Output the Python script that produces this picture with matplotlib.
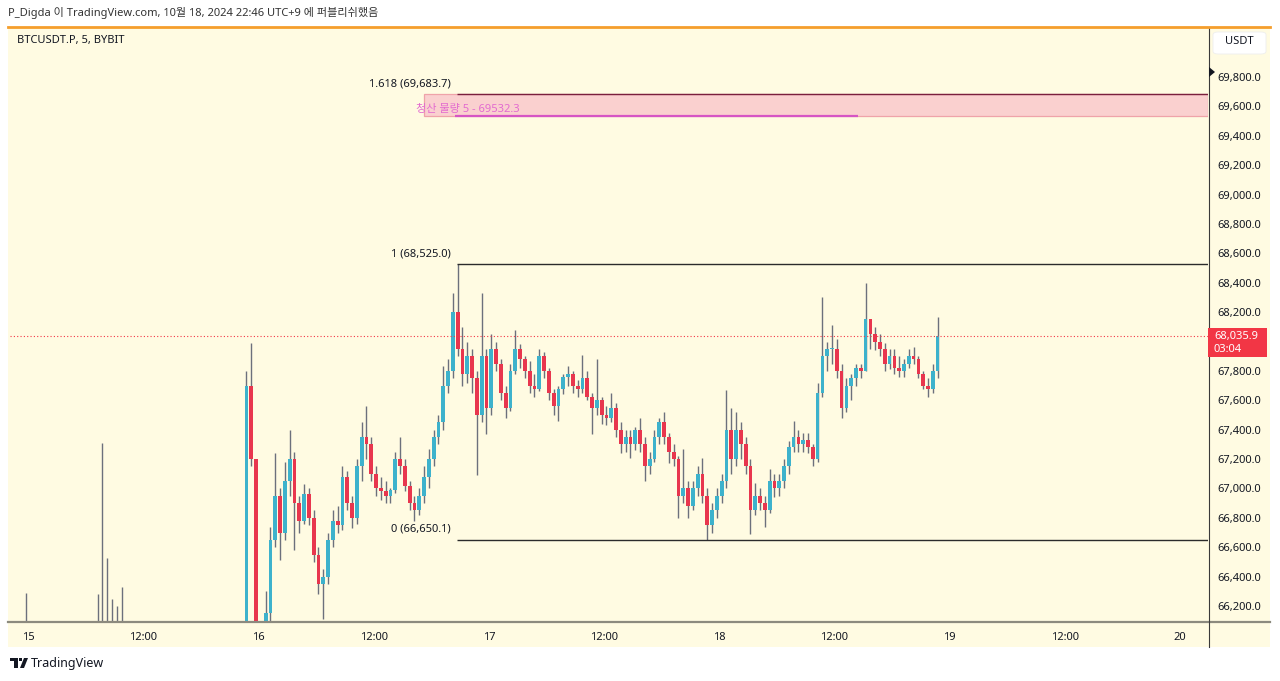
import matplotlib

matplotlib.use("Agg")

import matplotlib.dates as mdates
import matplotlib.pyplot as plt
import numpy as np
import pandas as pd
from matplotlib.lines import Line2D
from matplotlib.patches import FancyBboxPatch, Polygon, Rectangle

plt.rcParams["font.family"] = ["Noto Sans", "Noto Sans CJK KR", "DejaVu Sans"]

# 30분 봉 (2024-10-14 22:00 UTC+9 부터), open 은 직전 close
first_open = 65900
high = [
    65950, 65990, 66020, 66290, 66050, 65920, 65780, 65700, 65650, 65600, 65560, 65520, 65500,
    65600, 65700, 65800, 65880, 65950, 66280, 67310, 66530, 66250, 66200, 66330, 65980, 65850,
    65780, 65700, 65650, 65600, 65580, 65650, 65720, 65780, 65820, 65860, 65800, 65760, 65740,
    65700, 65720, 65800, 65860, 65900, 65950, 66000, 66020, 65980, 66060, 67800, 67990, 67200,
    # 16일
    65900, 66300, 66740, 67240, 67000, 67180, 67400, 67250, 66950, 67030, 67000, 66850, 66600,
    66450, 66700, 66850, 66880, 67150, 67120, 66950, 67200, 67450, 67560, 67350, 67150, 67080,
    67050, 67000, 67250, 67350, 67200, 67050, 66950, 67000, 67150, 67270, 67400, 67500, 67830,
    67880, 68330, 68525, 68100, 68000, 67950, 67800, 68330, 67950,
    # 17일
    68050, 68000, 67880, 67700, 67850, 68080, 67980, 67900, 67870, 67780, 67950, 67930, 67820,
    67680, 67700, 67780, 67830, 67800, 67740, 67910, 67800, 67650, 67880, 67620, 67560, 67650,
    67580, 67450, 67400, 67400, 67420, 67480, 67350, 67250, 67400, 67480, 67520, 67380, 67300,
    67220, 67270, 67050, 67050, 67150, 67210, 67000, 66900, 67000,
    # 18일
    67100, 67670, 67550, 67520, 67450, 67350, 67200, 67040, 67000, 66950, 67130, 67100, 67100,
    67200, 67320, 67460, 67400, 67380, 67380, 67300, 67720, 68300, 68000, 68110, 68020, 67850,
    67750, 67780, 67850, 67850, 68400, 68150, 68100, 68050, 67990, 67950, 67950, 67900, 67880,
    67950, 67960, 67900, 67800, 67750, 67850, 68170,
]
low = [
    65780, 65820, 65850, 65880, 65800, 65650, 65540, 65450, 65400, 65350, 65300, 65250, 65200,
    65350, 65450, 65550, 65600, 65700, 65800, 65900, 65950, 65900, 65850, 65880, 65700, 65600,
    65550, 65480, 65400, 65380, 65350, 65450, 65500, 65550, 65600, 65650, 65600, 65560, 65500,
    65480, 65500, 65600, 65650, 65700, 65750, 65780, 65800, 65760, 65820, 65950, 67150, 65600,
    # 16일
    65400, 65580, 66050, 66600, 66510, 66650, 66950, 66580, 66700, 66760, 66750, 66500, 66280,
    66110, 66350, 66600, 66700, 66720, 66850, 66730, 66760, 67050, 67200, 67050, 66950, 66920,
    66900, 66900, 66970, 67100, 66980, 66850, 66780, 66820, 66900, 67000, 67150, 67300, 67400,
    67650, 67750, 67900, 67700, 67720, 67650, 67090, 67450, 67370,
    # 17일
    67500, 67800, 67600, 67480, 67530, 67780, 67820, 67750, 67650, 67620, 67660, 67750, 67600,
    67500, 67460, 67640, 67700, 67650, 67620, 67650, 67600, 67370, 67500, 67440, 67430, 67450,
    67350, 67240, 67250, 67210, 67260, 67250, 67050, 67100, 67180, 67300, 67300, 67170, 67150,
    66800, 66900, 66800, 66850, 66950, 66900, 66650, 66700, 66800,
    # 18일
    66900, 67000, 67100, 67150, 67200, 67100, 66690, 66820, 66850, 66740, 66830, 66940, 66950,
    67000, 67100, 67250, 67250, 67250, 67240, 67150, 67180, 67620, 67800, 67850, 67750, 67480,
    67520, 67600, 67700, 67750, 67800, 67950, 67940, 67900, 67800, 67810, 67780, 67760, 67760,
    67820, 67850, 67750, 67680, 67620, 67650, 67750,
]
close = [
    65880, 65930, 65900, 65960, 65860, 65700, 65600, 65520, 65480, 65430, 65380, 65330, 65420,
    65550, 65640, 65700, 65800, 65880, 66000, 66080, 66050, 66000, 65950, 65920, 65760, 65680,
    65620, 65560, 65500, 65450, 65520, 65600, 65650, 65700, 65760, 65720, 65680, 65640, 65600,
    65560, 65660, 65740, 65780, 65820, 65880, 65900, 65880, 65900, 65980, 67700, 67200, 65800,
    # 16일
    65600, 66150, 66650, 66950, 66700, 67050, 67200, 66900, 66780, 66960, 66800, 66550, 66350,
    66400, 66650, 66780, 66750, 67080, 66900, 66800, 67150, 67350, 67300, 67100, 67000, 66980,
    66950, 66990, 67200, 67150, 67020, 66900, 66850, 66950, 67080, 67200, 67350, 67450, 67700,
    67800, 68200, 67950, 67780, 67900, 67750, 67500, 67900, 67550,
    # 17일
    67950, 67850, 67650, 67550, 67800, 67950, 67880, 67800, 67700, 67680, 67900, 67800, 67650,
    67560, 67680, 67760, 67780, 67700, 67680, 67750, 67620, 67550, 67600, 67500, 67480, 67550,
    67400, 67300, 67350, 67300, 67400, 67300, 67150, 67200, 67350, 67450, 67350, 67250, 67200,
    66950, 67000, 66880, 67000, 67100, 66950, 66750, 66850, 66950,
    # 18일
    67050, 67400, 67200, 67400, 67300, 67150, 66850, 66950, 66900, 66850, 67050, 67000, 67050,
    67150, 67280, 67350, 67300, 67330, 67280, 67200, 67650, 67900, 67950, 67950, 67800, 67550,
    67700, 67750, 67820, 67800, 68150, 68050, 68000, 67950, 67850, 67900, 67820, 67800, 67850,
    67900, 67880, 67780, 67700, 67680, 67800, 68035.9,
]
last_price = 68035.9
countdown = "03:04"

# 피보나치 되돌림 (고점 → 저점)
fib_levels = [1.0, 0.0, 1.618]
fib_prices = [68525.0, 66650.1, 69683.7]
fib_start = "2024-10-16 20:41"

# 청산 물량 구간
liq_top = 69683.7
liq_price = 69532.3
liq_label = "청산 물량 5 - 69532.3"
liq_box_start = "2024-10-16 17:15"
liq_line_start = "2024-10-16 20:29"
liq_line_end = "2024-10-18 14:28"
liq_text_start = "2024-10-16 16:25"

day_ticks = ["2024-10-15", "2024-10-16", "2024-10-17", "2024-10-18", "2024-10-19", "2024-10-20"]
noon_ticks = ["2024-10-15 12:00", "2024-10-16 12:00", "2024-10-17 12:00",
              "2024-10-18 12:00", "2024-10-19 12:00"]
price_ticks = list(range(66200, 69801, 200))

x_left = "2024-10-14 22:07"
x_right = "2024-10-20 02:55"
y_bottom = 66091.1
y_top = 70133.5

W, H = 1280, 681
CREAM = "#FFFBE2"
UP = "#3DB2CC"
DOWN = "#E8364E"
WICK = "#6C707C"
TEXT = "#131722"


def px(x, y):
    """픽셀 좌표 (좌상단 원점) → figure 좌표."""
    return x / W, 1 - y / H


def dnum(s):
    return mdates.date2num(pd.Timestamp(s))


fig = plt.figure(figsize=(W / 100, H / 100), dpi=100)
fig.patch.set_facecolor("white")

# 차트 전체 배경
bg = Rectangle(px(8, 647), 1262 / W, 619 / H, transform=fig.transFigure,
               facecolor=CREAM, edgecolor="none", zorder=-5)
fig.patches.append(bg)

ax = fig.add_axes([10 / W, 1 - 622 / H, 1198 / W, 594 / H])
ax.set_facecolor("none")
for spine in ax.spines.values():
    spine.set_visible(False)

# 캔들
high = np.asarray(high, dtype=float)
low = np.asarray(low, dtype=float)
close = np.asarray(close, dtype=float)
opens = np.r_[first_open, close[:-1]]
times = pd.date_range("2024-10-14 22:00", periods=len(close), freq="30min")
x = mdates.date2num(times + pd.Timedelta(minutes=15))
up = close >= opens
colors = np.where(up, UP, DOWN)
ax.vlines(x, low, high, colors=WICK, linewidth=1.0, zorder=3)
body_h = np.maximum(np.abs(close - opens), 6)
ax.bar(x, body_h, bottom=np.minimum(close, opens), width=0.78 / 48,
       color=colors, edgecolor="none", zorder=4)

x_end = dnum(x_right)

# 청산 물량 박스 + 라인
ax.add_patch(Rectangle((dnum(liq_box_start), liq_price), x_end - dnum(liq_box_start),
                       liq_top - liq_price, facecolor="#FAD0CF", edgecolor="#EFA3A9",
                       linewidth=0.9, zorder=2))
ax.hlines(liq_price, dnum(liq_line_start), dnum(liq_line_end), color="#D655C4",
          linewidth=1.6, zorder=5)
ax.text(dnum(liq_text_start), liq_price + 48, liq_label, color="#E36BD0",
        fontsize=8, va="center", ha="left", zorder=6)

# 피보나치 라인
fib_colors = ["#2B2B2B", "#2B2B2B", "#7A1F3D"]
for level, price, col in zip(fib_levels, fib_prices, fib_colors):
    ax.hlines(price, dnum(fib_start), x_end, color=col, linewidth=1.0, zorder=5)
    ax.annotate(f"{level:g} ({price:,.1f})", xy=(dnum(fib_start), price),
                xytext=(-6, 5), textcoords="offset pixels", ha="right", va="bottom",
                fontsize=8, color=TEXT)

# 현재가 점선
ax.axhline(last_price, color="#F23645", linewidth=0.8, linestyle=(0, (1, 2)), zorder=6)

ax.set_xlim(dnum(x_left), x_end)
ax.set_ylim(y_bottom, y_top)

# 가격축 (현재가 라벨에 가려지는 눈금은 비움)
ax.yaxis.tick_right()
ax.set_yticks(price_ticks)
ax.set_yticklabels(["" if abs(v - last_price) < 100 else f"{v:,.1f}" for v in price_ticks])
ax.tick_params(axis="y", length=0, pad=7, labelsize=8, labelcolor=TEXT)

# 시간축
xt = [dnum(d) for d in day_ticks] + [dnum(n) for n in noon_ticks]
xl = [str(pd.Timestamp(d).day) for d in day_ticks] + ["12:00"] * len(noon_ticks)
ax.set_xticks(xt)
ax.set_xticklabels(xl)
ax.tick_params(axis="x", length=0, pad=7, labelsize=8, labelcolor=TEXT)
for lab in ax.get_xticklabels()[:len(day_ticks)]:
    lab.set_fontweight("bold")

# 구분선
fig.lines.append(Line2D([8 / W, 1270 / W], [1 - 622 / H] * 2, transform=fig.transFigure,
                        color="#8C8A7E", linewidth=1.6))
fig.lines.append(Line2D([1209 / W] * 2, [1 - 28 / H, 1 - 647 / H], transform=fig.transFigure,
                        color="#3A3A3A", linewidth=0.8))
fig.lines.append(Line2D([8 / W, 1270 / W], [1 - 27 / H] * 2, transform=fig.transFigure,
                        color="#F59E2C", linewidth=2.0))

# 현재가 라벨
fig.patches.append(Rectangle(px(1208, 357), 59 / W, 29 / H, transform=fig.transFigure,
                             facecolor="#F23645", edgecolor="none", zorder=10))
fig.text(*px(1214, 336), f"{last_price:,.1f}", color="white", fontsize=8,
         va="center", ha="left", zorder=11)
fig.text(*px(1214, 349), countdown, color="white", fontsize=8, va="center", ha="left",
         zorder=11)

# 가격축 상단 마커 / USDT 박스
fig.patches.append(Polygon([px(1209, 67), px(1209, 77), px(1215, 72)], closed=True,
                           transform=fig.transFigure, facecolor="#131722", zorder=10))
fig.patches.append(FancyBboxPatch(px(1213, 54), 53 / W, 22 / H,
                                  boxstyle="round,pad=0,rounding_size=0.004",
                                  transform=fig.transFigure, facecolor="white",
                                  edgecolor="#EEEEEE", linewidth=0.6, zorder=10))
fig.text(*px(1239, 42), "USDT", color=TEXT, fontsize=8, ha="center", va="center", zorder=11)

# 헤더 / 심볼
fig.text(*px(8, 13), "P_Digda 이 TradingView.com, 10월 18, 2024 22:46 UTC+9 에 퍼블리쉬했음",
         color="#333333", fontsize=8, ha="left", va="center")
fig.text(*px(17, 41), "BTCUSDT.P, 5, BYBIT", color=TEXT, fontsize=8, ha="left", va="center")

# TradingView 로고
logo = "#131722"
fig.patches.append(Polygon([px(10, 658), px(18, 658), px(18, 668), px(14, 668), px(14, 661),
                            px(10, 661)], closed=True, transform=fig.transFigure,
                           facecolor=logo))
fig.patches.append(Polygon([px(19, 658), px(22, 658), px(22, 661), px(19, 661)], closed=True,
                           transform=fig.transFigure, facecolor=logo))
fig.patches.append(Polygon([px(24, 658), px(28, 658), px(24, 668), px(20, 668)], closed=True,
                           transform=fig.transFigure, facecolor=logo))
fig.text(*px(31, 663), "TradingView", color=TEXT, fontsize=9, ha="left", va="center")

fig.savefig("out.png", dpi=100, facecolor="white")
